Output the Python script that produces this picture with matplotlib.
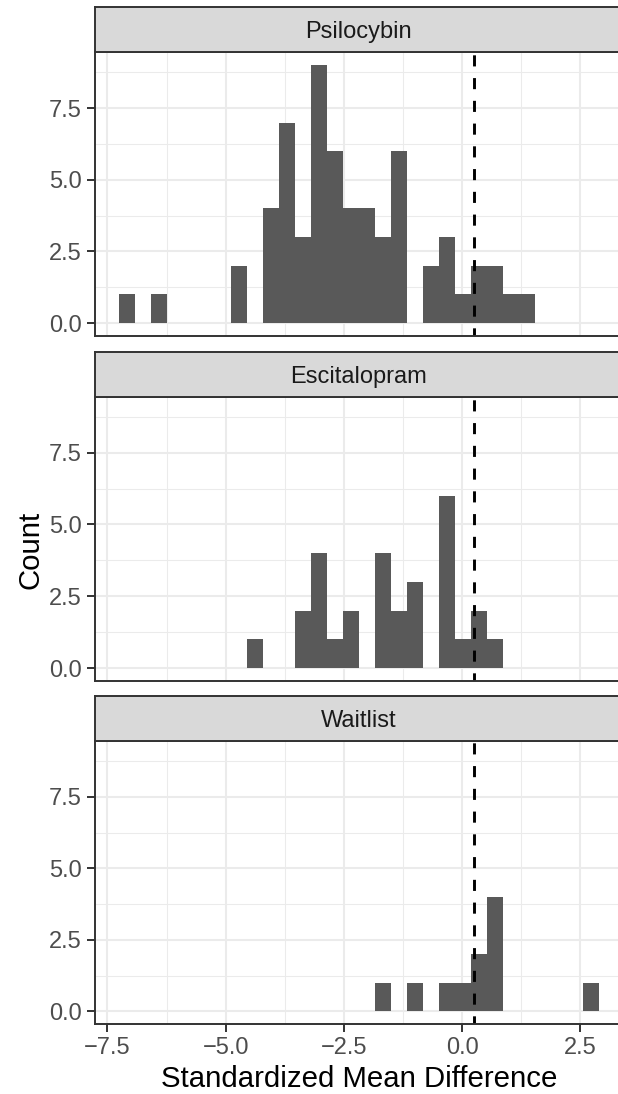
import matplotlib
matplotlib.use("Agg")
import matplotlib.pyplot as plt
from matplotlib.ticker import FixedLocator
import numpy as np

plt.rcParams['font.family'] = ['Liberation Sans', 'DejaVu Sans']

# ---- data (counts per histogram bin) ----
facets = ["Psilocybin", "Escitalopram", "Waitlist"]
bin_start = -7.25
bin_width = 0.3378
n_bins = 30
counts_psilocybin = [1, 0, 1, 0, 0, 0, 0, 2, 0, 4, 7, 3, 9, 6, 4, 4, 3, 6, 0, 2,
                     3, 1, 2, 2, 1, 1, 0, 0, 0, 0]
counts_escitalopram = [0, 0, 0, 0, 0, 0, 0, 0, 1, 0, 0, 2, 4, 1, 2, 0, 4, 2, 3, 0,
                       6, 1, 2, 1, 0, 0, 0, 0, 0, 0]
counts_waitlist = [0, 0, 0, 0, 0, 0, 0, 0, 0, 0, 0, 0, 0, 0, 0, 0, 1, 0, 1, 0,
                   1, 1, 2, 4, 0, 0, 0, 0, 0, 1]
ref_line = 0.245
x_ticks = [-7.5, -5.0, -2.5, 0.0, 2.5]
y_ticks = [0.0, 2.5, 5.0, 7.5]
x_label = "Standardized Mean Difference"
y_label = "Count"

all_counts = [counts_psilocybin, counts_escitalopram, counts_waitlist]
edges = bin_start + bin_width * np.arange(n_bins + 1)

# ---- layout (pixels) ----
W, H = 618, 1094
fig = plt.figure(figsize=(W / 100, H / 100), dpi=100)

def px_axes(left, top, right, bottom):
    return fig.add_axes([left / W, 1 - bottom / H, (right - left) / W, (bottom - top) / H])

panel_left, panel_right = 95.3, 622.5
panels = [(52.3, 336.0), (396.7, 681.0), (741.0, 1024.3)]
strips = [(6.7, 52.3), (351.7, 396.7), (695.7, 741.0)]

xr = edges[-1] - edges[0]
xlim = (edges[0] - 0.05 * xr, edges[-1] + 0.05 * xr)
ymax = max(max(c) for c in all_counts)
ylim = (-0.05 * ymax, ymax * 1.05)

border_col = "#333333"
text_col = "#4D4D4D"
fs_axis = 17
fs_title = 21.2

for i, (name, counts) in enumerate(zip(facets, all_counts)):
    top, bottom = panels[i]
    ax = px_axes(panel_left, top, panel_right, bottom)
    ax.set_xlim(*xlim)
    ax.set_ylim(*ylim)
    ax.xaxis.set_major_locator(FixedLocator(x_ticks))
    ax.xaxis.set_minor_locator(FixedLocator([-6.25, -3.75, -1.25, 1.25]))
    ax.yaxis.set_major_locator(FixedLocator(y_ticks))
    ax.yaxis.set_minor_locator(FixedLocator([1.25, 3.75, 6.25, 8.75]))
    ax.grid(which="major", color="#EBEBEB", lw=1.5)
    ax.grid(which="minor", color="#EBEBEB", lw=0.75)
    ax.set_axisbelow(True)
    ax.bar(edges[:-1], counts, width=bin_width, align="edge", color="#595959",
           edgecolor="none", linewidth=0)
    ax.axvline(ref_line, color="black", lw=2.1, ls=(1.0, (3.8, 4.0)))
    for sp in ax.spines.values():
        sp.set_color(border_col)
        sp.set_linewidth(1.4)
    ax.tick_params(which="minor", length=0)
    ax.tick_params(which="major", length=5.5, width=1.4, color=border_col,
                   labelcolor=text_col, labelsize=fs_axis, pad=4)
    ax.set_yticklabels([f"{v:.1f}" for v in y_ticks])
    if i < 2:
        ax.tick_params(axis="x", which="both", bottom=False, labelbottom=False)
    else:
        ax.set_xticklabels([f"{v:.1f}".replace("-", "\u2212") for v in x_ticks])
        ax.set_xlabel(x_label, fontsize=fs_title, color="black", labelpad=4)

    st, sb = strips[i]
    sax = px_axes(panel_left, st, panel_right, sb)
    sax.set_facecolor("#D9D9D9")
    sax.set_xticks([])
    sax.set_yticks([])
    for sp in sax.spines.values():
        sp.set_color(border_col)
        sp.set_linewidth(1.4)
    sax.text(0.5, 0.5, name, transform=sax.transAxes, ha="center",
             va="center_baseline", fontsize=fs_axis, color="#1A1A1A")

fig.text(30 / W, 1 - 550 / H, y_label, rotation=90, ha="center", va="center",
         fontsize=fs_title, color="black")

fig.savefig("out.png", dpi=100)
